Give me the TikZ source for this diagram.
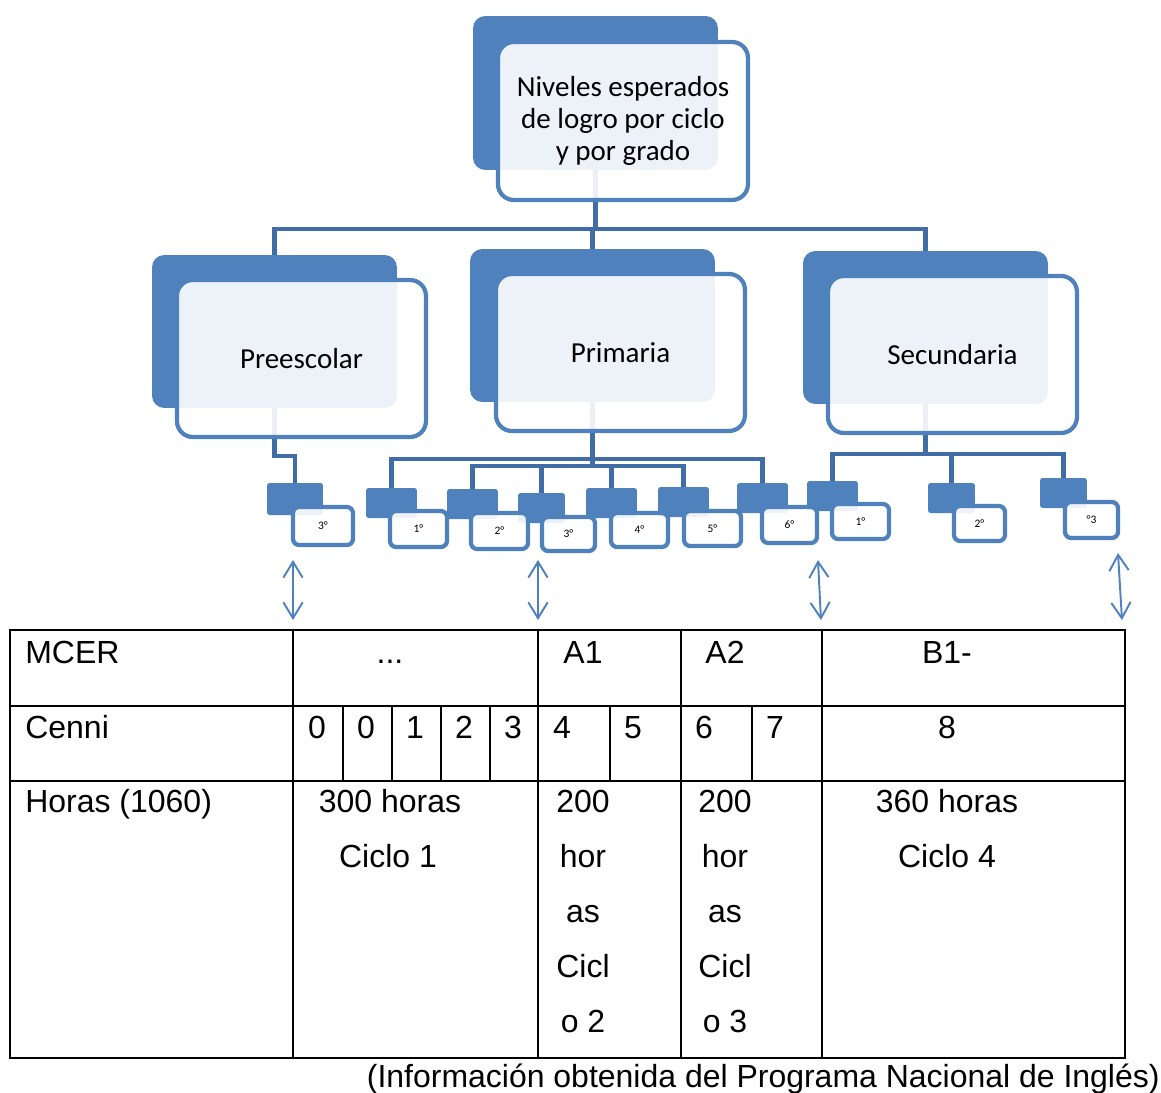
\documentclass[tikz,border=0pt]{standalone}
\usepackage{fontspec}
\setmainfont{Liberation Sans}
\newfontfamily\calibri{Carlito}
\usepackage{xcolor}
\usetikzlibrary{arrows.meta,positioning}

\definecolor{accblue}{HTML}{4F81BD}
\definecolor{linkblue}{HTML}{416DA6}

\begin{document}
\begin{tikzpicture}[x=0.02cm, y=-0.02cm,
  bigback/.style={fill=accblue, rounded corners=7pt, inner sep=0pt, outer sep=0pt, anchor=north west, minimum width=4.9cm, minimum height=3.06cm},
  bigfront/.style={draw=accblue, line width=2.4pt, fill=white, fill opacity=0.9, text opacity=1, rounded corners=9pt, inner sep=0pt, outer sep=0pt, anchor=north west, minimum width=4.98cm, minimum height=3.14cm, align=center, font=\calibri\fontsize{16.5}{18.2}\selectfont},
  smback/.style={fill=accblue, rounded corners=1.5pt, inner sep=0pt, outer sep=0pt, anchor=north west, minimum width=1.02cm, minimum height=0.6cm},
  smfront/.style={draw=accblue, line width=2.4pt, fill=white, fill opacity=0.9, text opacity=1, rounded corners=3.5pt, inner sep=0pt, outer sep=0pt, anchor=north west, minimum width=1.14cm, minimum height=0.72cm, font=\calibri\fontsize{6.5}{7}\selectfont},
  link/.style={draw=linkblue, line width=2.8pt},
  dbl/.style={accblue, line width=1.1pt, {Straight Barb[length=9pt,width=11pt]}-{Straight Barb[length=9pt,width=11pt]}},
  tbl/.style={black, line width=1.1pt},
  cell/.style={inner sep=0pt, anchor=base, font=\fontsize{18.2}{20}\selectfont}
]
\useasboundingbox (0,0) rectangle (1161,1093);

% zadni obdelniky
\node[bigback, minimum height=3.08cm] (niv-b) at (473,16) {};
\node[bigback] (pre-b) at (152,255) {};
\node[bigback] (pri-b) at (470,249) {};
\node[bigback] (sec-b) at (803,251) {};

\node[smback, minimum width=1.12cm, minimum height=0.64cm] (pre3-b) at (267,483) {};
\node[smback] (pri1-b) at (366,488) {};
\node[smback] (pri2-b) at (447,489) {};
\node[smback, minimum width=0.94cm] (pri3-b) at (518,493) {};
\node[smback] (pri4-b) at (586,488) {};
\node[smback] (pri5-b) at (658,487) {};
\node[smback] (pri6-b) at (737,483) {};
\node[smback] (sec1-b) at (807,481) {};
\node[smback, minimum width=0.94cm] (sec2-b) at (928,483) {};
\node[smback, minimum width=0.94cm] (sec3-b) at (1040,478) {};

% spojnice
\draw[link] (niv-b.south) -- ++(0,59) -| (pre-b.north);
\draw[link] (niv-b.south) -- ++(0,59) -| (pri-b.north);
\draw[link] (niv-b.south) -- ++(0,59) -| (sec-b.north);

\draw[link] (pre-b.south) -- ++(0,48) -| (pre3-b.north);

\draw[link] (pri-b.south) -- ++(0,57) -| (pri1-b.north);
\draw[link] (pri-b.south) -- ++(0,64) -| (pri2-b.north);
\draw[link] (pri-b.south) -- ++(0,64) -| (pri3-b.north);
\draw[link] (pri-b.south) -- ++(0,64) -| (pri4-b.north);
\draw[link] (pri-b.south) -- ++(0,64) -| (pri5-b.north);
\draw[link] (pri-b.south) -- ++(0,57) -| (pri6-b.north);

\draw[link] (sec-b.south) -- ++(0,50) -| (sec1-b.north);
\draw[link] (sec-b.south) -- ++(0,50) -| (sec2-b.north);
\draw[link] (sec-b.south) -- ++(0,50) -| (sec3-b.north);

% predni ramecky
\node[bigfront, minimum width=5.0cm, minimum height=3.16cm] (niv-f) at (498,42) {Niveles esperados\\de logro por ciclo\\y por grado};
\node[bigfront] (pre-f) at (177,280) {Preescolar};
\node[bigfront] (pri-f) at (496,274) {Primaria};
\node[bigfront] (sec-f) at (828,276) {Secundaria};

\node[smfront, minimum width=1.2cm, minimum height=0.76cm] (pre3-f) at (293,507) {3°};
\node[smfront] (pri1-f) at (390,511) {1°};
\node[smfront] (pri2-f) at (471,513) {2°};
\node[smfront, minimum width=1.06cm, minimum height=0.68cm] (pri3-f) at (542,517) {3°};
\node[smfront, minimum height=0.68cm] (pri4-f) at (611,513) {4°};
\node[smfront, minimum height=0.7cm] (pri5-f) at (684,511) {5°};
\node[smfront, minimum width=1.1cm] (pri6-f) at (762,507) {6°};
\node[smfront, minimum height=0.7cm] (sec1-f) at (832,504) {1°};
\node[smfront, minimum width=1.02cm, minimum height=0.7cm] (sec2-f) at (954,506) {2°};
\node[smfront, minimum width=1.06cm] (sec3-f) at (1065,502) {°3};

% sipky
\coordinate (a1t) at (293,560); \coordinate (a1b) at (293,620);
\coordinate (a2t) at (538,560); \coordinate (a2b) at (538,620);
\coordinate (a3t) at (818,560); \coordinate (a3b) at (821,620);
\coordinate (a4t) at (1118,553); \coordinate (a4b) at (1122,620);
\draw[dbl] (a1t) -- (a1b);
\draw[dbl] (a2t) -- (a2b);
\draw[dbl] (a3t) -- (a3b);
\draw[dbl] (a4t) -- (a4b);

% tabulka
\draw[tbl] (10,630) rectangle (1125,1058);
\draw[tbl] (10,706) -- (1125,706);
\draw[tbl] (10,781) -- (1125,781);
\draw[tbl] (293,630) -- (293,1058);
\draw[tbl] (538,630) -- (538,1058);
\draw[tbl] (681,630) -- (681,1058);
\draw[tbl] (822,630) -- (822,1058);
\draw[tbl] (343,706) -- (343,781);
\draw[tbl] (392,706) -- (392,781);
\draw[tbl] (441,706) -- (441,781);
\draw[tbl] (490,706) -- (490,781);
\draw[tbl] (610,706) -- (610,781);
\draw[tbl] (752,706) -- (752,781);

% radek MCER
\node[cell, anchor=base west] (mcer) at (25,663) {MCER};
\node[cell] (dots) at (390,663) {...};
\node[cell] (a1) at (583,663) {A1};
\node[cell] (a2) at (725,663) {A2};
\node[cell] (b1) at (947,663) {B1-};

% radek Cenni
\node[cell, anchor=base west] (cenni) at (25,738) {Cenni};
\node[cell] (c0a) at (317,738) {0};
\node[cell] (c0b) at (366,738) {0};
\node[cell] (c1) at (415,738) {1};
\node[cell] (c2) at (464,738) {2};
\node[cell] (c3) at (513,738) {3};
\node[cell] (c4) at (562,738) {4};
\node[cell] (c5) at (633,738) {5};
\node[cell] (c6) at (704,738) {6};
\node[cell] (c7) at (775,738) {7};
\node[cell] (c8) at (947,738) {8};

% radek Horas
\node[cell, anchor=base west] (horas) at (25,812) {Horas (1060)};
\node[cell] (h1) at (390,812) {300 horas};
\node[cell] (h1c) at (388,867) {Ciclo 1};
\node[cell] (h2) at (583,812) {200};
\node[cell] (h2a) at (583,867) {hor};
\node[cell] (h2b) at (583,922) {as};
\node[cell] (h2c) at (583,977) {Cicl};
\node[cell] (h2d) at (583,1032) {o 2};
\node[cell] (h3) at (725,812) {200};
\node[cell] (h3a) at (725,867) {hor};
\node[cell] (h3b) at (725,922) {as};
\node[cell] (h3c) at (725,977) {Cicl};
\node[cell] (h3d) at (725,1032) {o 3};
\node[cell] (h4) at (947,812) {360 horas};
\node[cell] (h4c) at (947,867) {Ciclo 4};

% zdroj
\node[cell, anchor=base east] (zdroj) at (1160,1087) {(Información obtenida del Programa Nacional de Inglés)};

\end{tikzpicture}
\end{document}
